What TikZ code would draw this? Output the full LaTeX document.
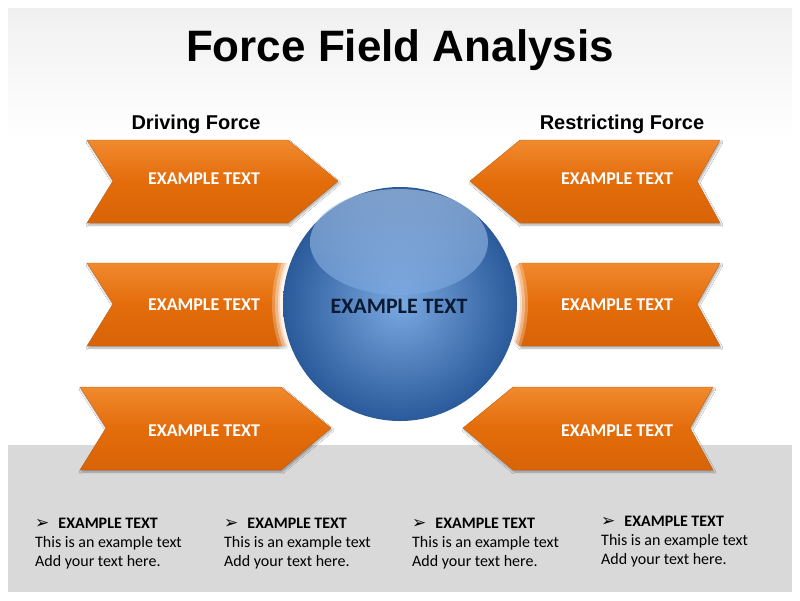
\documentclass[tikz,border=0pt]{standalone}
\usepackage{fontspec}
\setmainfont{Carlito}
\newfontfamily\arialf{Liberation Sans}
\newfontfamily\dejavuf{DejaVu Sans}
\usetikzlibrary{shadows.blur}
\definecolor{orA}{HTML}{F08A2E}
\definecolor{orB}{HTML}{E46C0A}
\definecolor{orC}{HTML}{D86407}
\definecolor{bandgray}{HTML}{D9D9D9}
\definecolor{bgtop}{HTML}{F0F0F0}
\definecolor{ballout}{HTML}{2A5A9A}
\definecolor{ballin}{HTML}{7AA8E0}
\definecolor{ballhi}{HTML}{B4CCEA}
\definecolor{navy}{HTML}{0B1A33}
\tikzset{
  chev/.style={top color=orA, bottom color=orC, middle color=orB, draw=orB!85!black, line width=0.3pt,
    blur shadow={shadow xshift=1pt, shadow yshift=-2pt, shadow blur steps=6, shadow opacity=35}},
  chevtext/.style={text=white, font=\bfseries\fontsize{18}{21}\selectfont},
  head/.style={font=\arialf\bfseries\fontsize{20}{24}\selectfont},
  bullethead/.style={anchor=north west, align=left, font=\fontsize{16}{19}\selectfont, inner sep=0pt}
}
\begin{document}
\begin{tikzpicture}[x=1pt,y=-1pt]
\useasboundingbox (0,0) rectangle (800,600);
\fill[white] (0,0) rectangle (800,600);
\shade[top color=bgtop, bottom color=white] (8,8) rectangle (792,140);
\fill[bandgray] (8,445) rectangle (792,592);
% title
\node[font=\arialf\bfseries\fontsize{44}{50}\selectfont] (title) at (400,50) {Force Field Analysis};
\node[head] (drv) at (196,124) {Driving Force};
\node[head] (rst) at (622,124) {Restricting Force};
% left chevrons
\foreach \y/\dx/\n in {140/0/l1,263/0/l2,387/-7/l3}{
  \path[chev] (87+\dx,\y) -- (288+\dx,\y) -- (338+\dx,\y+41) -- (288+\dx,\y+83) -- (87+\dx,\y+83) -- (113+\dx,\y+41) -- cycle;
}
\foreach \y/\dx/\n in {140/0/r1,263/0/r2,387/-7/r3}{
  \path[chev] (720+\dx,\y) -- (520+\dx,\y) -- (470+\dx,\y+41) -- (520+\dx,\y+83) -- (720+\dx,\y+83) -- (697+\dx,\y+41) -- cycle;
}
\node[chevtext] (tl1) at (204,179) {EXAMPLE TEXT};
\node[chevtext] (tl2) at (204,305) {EXAMPLE TEXT};
\node[chevtext] (tl3) at (204,431) {EXAMPLE TEXT};
\node[chevtext] (tr1) at (617,179) {EXAMPLE TEXT};
\node[chevtext] (tr2) at (617,305) {EXAMPLE TEXT};
\node[chevtext] (tr3) at (617,431) {EXAMPLE TEXT};
% ball glow
\foreach \r/\o in {128/0.25,125/0.35,122/0.5,120/0.7}{
  \fill[white, opacity=\o] (400,304) circle (\r);
}
\shade[inner color=ballin, outer color=ballout] (400,304) circle (117);
\shade[top color=ballhi, bottom color=ballin, opacity=0.6] (399,242) ellipse (89 and 53);
\node[text=navy, font=\bfseries\fontsize{22}{25}\selectfont] (ball) at (399,306) {EXAMPLE TEXT};
% bottom texts
\foreach \x/\y/\n in {35/518/b1,224/518/b2,412/518/b3,601/516/b4}{
  \node[bullethead] (\n) at (\x,\y) {{\dejavuf\fontsize{17}{19}\selectfont ➢}\hspace{9pt}\textbf{EXAMPLE TEXT}\\This is an example text\\Add your text here.};
}
\end{tikzpicture}
\end{document}
